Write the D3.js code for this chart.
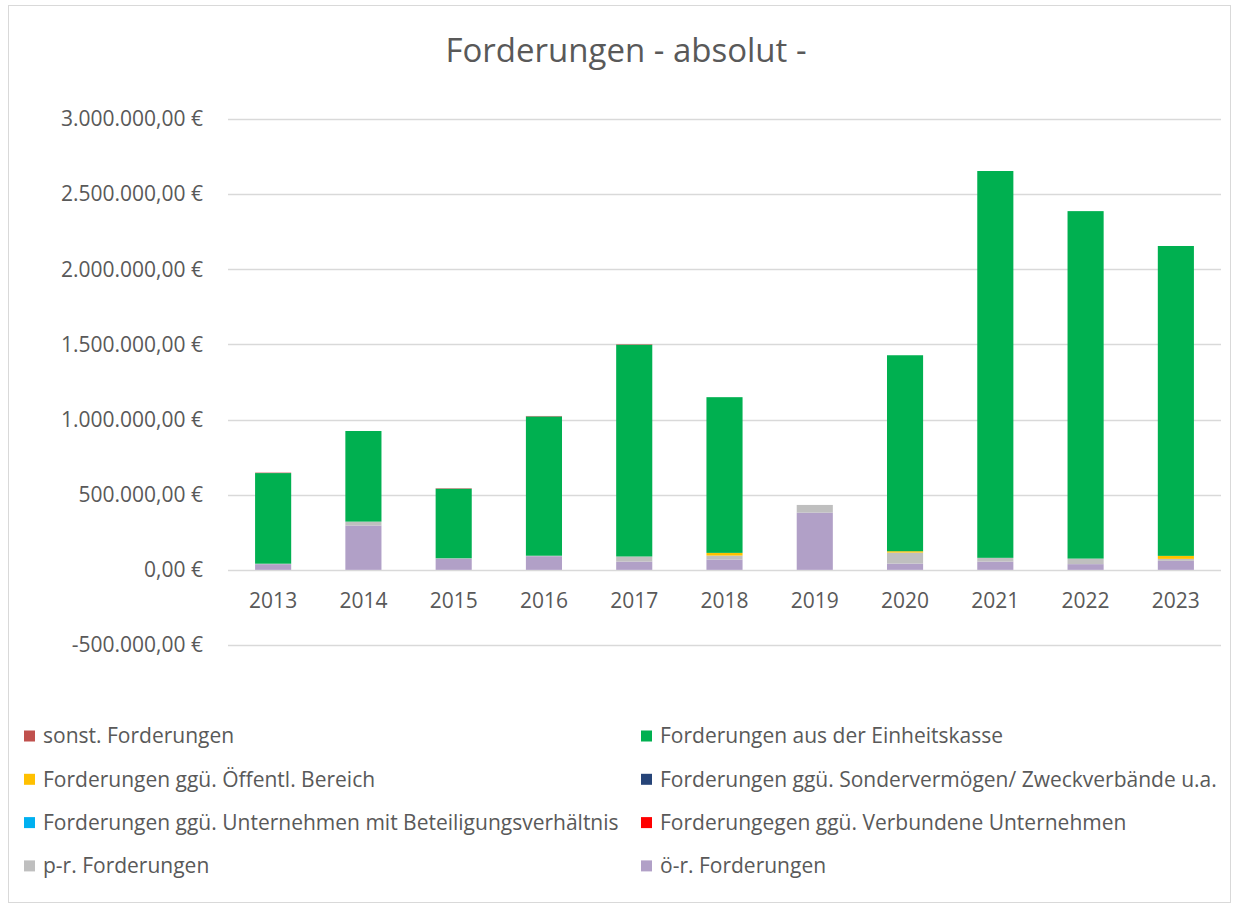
<!DOCTYPE html>
<html>
<head>
<meta charset="utf-8">
<script src="https://cdn.jsdelivr.net/npm/d3@7"></script>
<style>
  body { margin: 0; background: #fff; }
  text { font-family: "Open Sans", Lato, sans-serif; fill: #595959; }
</style>
</head>
<body>
<svg width="1239" height="908"></svg>
<script>
var years = ["2013","2014","2015","2016","2017","2018","2019","2020","2021","2022","2023"];

// one array per series, stacking order from bottom to top
var oeR        = [38000, 295000, 75000, 91000, 55000, 69000, 381000, 42000, 55000, 38000, 60000];
var pR         = [3000, 26000, 2000, 3000, 34000, 26000, 51000, 73000, 25000, 37000, 13000];
var verbunden  = [0, 0, 0, 0, 0, 0, 0, 0, 0, 0, 0];
var beteiligt  = [0, 0, 0, 0, 0, 0, 0, 0, 0, 0, 0];
var sonderverm = [0, 0, 0, 0, 0, 0, 0, 0, 0, 0, 0];
var oeffentl   = [0, 0, 0, 0, 0, 18000, 0, 9000, 0, 0, 20000];
var einheit    = [603000, 603000, 463000, 927000, 1409000, 1036000, 0, 1304000, 2574000, 2312000, 2062000];
var sonst      = [3000, 0, 3000, 3000, 3000, 0, 0, 0, 0, 0, 0];

var seriesNames = ["ö-r. Forderungen", "p-r. Forderungen", "Forderungegen ggü. Verbundene Unternehmen",
  "Forderungen ggü. Unternehmen mit Beteiligungsverhältnis", "Forderungen ggü. Sondervermögen/ Zweckverbände u.a.",
  "Forderungen ggü. Öffentl. Bereich", "Forderungen aus der Einheitskasse", "sonst. Forderungen"];
var seriesValues = [oeR, pR, verbunden, beteiligt, sonderverm, oeffentl, einheit, sonst];
var seriesColors = ["#B1A0C7", "#BFBFBF", "#FF0000", "#00B0F0", "#264478", "#FFC000", "#00B050", "#C0504D"];

var yTicks = [-500000, 0, 500000, 1000000, 1500000, 2000000, 2500000, 3000000];

var svg = d3.select("svg");

var de = d3.formatLocale({decimal: ",", thousands: ".", grouping: [3], currency: ["", " €"], minus: "-"});
var fmt = de.format(",.2f");

// chart border
svg.append("rect")
    .attr("x", 8.5).attr("y", 5.5)
    .attr("width", 1222).attr("height", 897)
    .attr("fill", "none").attr("stroke", "#d9d9d9");

var x = d3.scaleBand().domain(years).range([228, 1221]).paddingInner(0.6).paddingOuter(0.3);
var y = d3.scaleLinear().domain([-500000, 3000000]).range([645, 119]);

// gridlines
svg.append("g").selectAll("line")
    .data(yTicks)
    .enter().append("line")
    .attr("x1", 228).attr("x2", 1221)
    .attr("y1", function(d) { return Math.round(y(d)) + 0.5; })
    .attr("y2", function(d) { return Math.round(y(d)) + 0.5; })
    .attr("stroke", "#d9d9d9").attr("stroke-width", 1.3);

// y labels
svg.append("g").selectAll("text")
    .data(yTicks)
    .enter().append("text")
    .attr("x", 203)
    .attr("y", function(d) { return y(d); })
    .attr("dy", "0.35em")
    .attr("text-anchor", "end")
    .style("font-size", "21px")
    .text(function(d) { return fmt(d) + " €"; });

// stacked bars
var table = years.map(function(yr, i) {
    var row = {year: yr};
    seriesNames.forEach(function(n, k) { row[n] = seriesValues[k][i]; });
    return row;
});
var stack = d3.stack().keys(seriesNames)(table);

svg.append("g").selectAll("g")
    .data(stack)
    .enter().append("g")
    .attr("fill", function(d, k) { return seriesColors[k]; })
    .selectAll("rect")
    .data(function(d) { return d; })
    .enter().append("rect")
    .attr("x", function(d) { return x(d.data.year); })
    .attr("width", x.bandwidth())
    .attr("y", function(d) { return y(d[1]); })
    .attr("height", function(d) { return Math.max(0, y(d[0]) - y(d[1])); });

// x labels
svg.append("g").selectAll("text")
    .data(years)
    .enter().append("text")
    .attr("x", function(d) { return x(d) + x.bandwidth() / 2; })
    .attr("y", 601)
    .attr("dy", "0.35em")
    .attr("text-anchor", "middle")
    .style("font-size", "21px")
    .text(function(d) { return d; });

// title
svg.append("text")
    .attr("x", 626).attr("y", 50)
    .attr("dy", "0.35em")
    .attr("text-anchor", "middle")
    .style("font-size", "33px")
    .text("Forderungen - absolut -");

// legend: two columns, reversed series order
var legendOrder = seriesNames.map(function(n, k) { return k; }).reverse();
var legend = svg.append("g").selectAll("g")
    .data(legendOrder)
    .enter().append("g")
    .attr("transform", function(k, i) {
        return "translate(" + (i % 2 ? 641 : 24) + "," + (736 + Math.floor(i / 2) * 43.3) + ")";
    });
legend.append("rect")
    .attr("x", 0).attr("y", -5.5)
    .attr("width", 11).attr("height", 11)
    .attr("fill", function(k) { return seriesColors[k]; });
legend.append("text")
    .attr("x", 19).attr("y", 0)
    .attr("dy", "0.35em")
    .style("font-size", "21px")
    .text(function(k) { return seriesNames[k]; });
</script>
</body>
</html>
